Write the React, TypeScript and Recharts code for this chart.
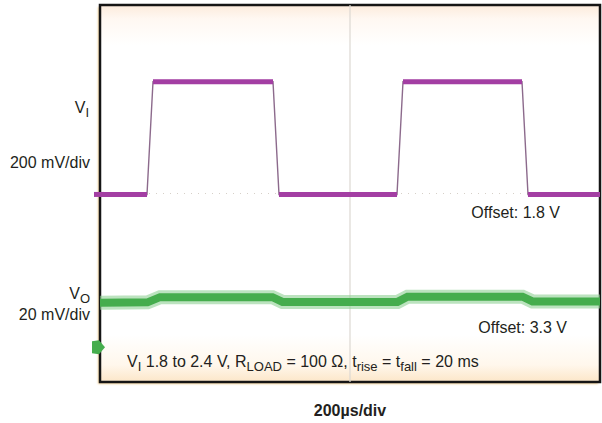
import React from "react";
import {
  LineChart,
  Line,
  XAxis,
  YAxis,
  ReferenceArea,
  ReferenceLine,
  ReferenceDot,
} from "recharts";

// time in µs (200 µs/div, 10 div), level in screen divisions (8 div)
const viTime = [0, 188, 212, 692, 716, 1188, 1212, 1688, 1712, 2000];
const viDiv = [3.98, 3.98, 6.37, 6.37, 3.98, 3.98, 6.37, 6.37, 3.98, 3.98];

const voTime = [0, 190, 240, 690, 730, 1190, 1230, 1690, 1730, 2000];
const voDiv = [1.68, 1.69, 1.8, 1.8, 1.7, 1.7, 1.81, 1.81, 1.71, 1.71];

const viMarker = 3.98;
const voMarker = 0.74;

const viData = viTime.map((t, i) => ({ t, v: viDiv[i] }));
const voData = voTime.map((t, i) => ({ t, v: voDiv[i] }));

// flat parts only (thick trace), edges left as gaps
const viFlat: { t: number; v: number | null }[] = [];
viTime.forEach((t, i) => {
  viFlat.push({ t, v: viDiv[i] });
  if (i % 2 === 1 && i < viTime.length - 1) {
    viFlat.push({ t: (t + viTime[i + 1]) / 2, v: null });
  }
});

const PURPLE = "#a33ea3";
const GREEN = "#45ad4d";
const font = "'Liberation Sans', Arial, sans-serif";

const ViMark = (p: any) => (
  <rect x={p.cx - 6} y={p.cy - 2.5} width={10} height={5} fill={PURPLE} />
);

const VoMark = (p: any) => (
  <path
    d={`M${p.cx - 8},${p.cy - 6} L${p.cx - 1},${p.cy - 7} L${p.cx + 5},${p.cy} L${p.cx - 1},${p.cy + 7} L${p.cx - 8},${p.cy + 6} Z`}
    fill={GREEN}
  />
);

export default function App() {
  return (
    <div style={{ position: "absolute", left: 0, top: 0, width: 602, height: 423, background: "#fff" }}>
      <div
        style={{
          position: "absolute",
          left: 100,
          top: 5,
          width: 500,
          height: 377,
          background:
            "linear-gradient(to bottom, #fcebdc 0px, #fff8f2 14px, #ffffff 40px, #ffffff 330px, #fff7ec 360px, #fce6c8 377px)",
          boxShadow: "-2px 2px 2px #f2d29a",
        }}
      />
      <div style={{ position: "absolute", left: 0, top: 0 }}>
        <LineChart width={602} height={423} margin={{ top: 5, right: 2, bottom: 41, left: 100 }}>
          <XAxis type="number" dataKey="t" domain={[0, 2000]} hide />
          <YAxis type="number" domain={[0, 8]} hide />
          <ReferenceLine x={1000} stroke="#dcd8d2" strokeWidth={1.2} />
          <ReferenceLine y={4} stroke="#d6d0c8" strokeDasharray="1 6" />
          <Line
            data={voData}
            dataKey="v"
            type="linear"
            stroke="#8fd094"
            strokeWidth={14}
            strokeOpacity={0.6}
            dot={false}
            isAnimationActive={false}
          />
          <Line
            data={voData}
            dataKey="v"
            type="linear"
            stroke={GREEN}
            strokeWidth={8}
            dot={false}
            isAnimationActive={false}
          />
          <Line
            data={viData}
            dataKey="v"
            type="linear"
            stroke="#8c6a8c"
            strokeWidth={1.4}
            dot={false}
            isAnimationActive={false}
          />
          <Line
            data={viFlat}
            dataKey="v"
            type="linear"
            stroke={PURPLE}
            strokeWidth={5}
            connectNulls={false}
            dot={false}
            isAnimationActive={false}
          />
          <ReferenceArea
            x1={0}
            x2={2000}
            y1={0}
            y2={8}
            fill="none"
            stroke="#151515"
            strokeWidth={2.5}
            ifOverflow="visible"
          />
          <ReferenceDot x={0} y={viMarker} ifOverflow="visible" shape={ViMark} />
          <ReferenceDot x={0} y={voMarker} ifOverflow="visible" shape={VoMark} />
        </LineChart>
      </div>
      <svg
        width={602}
        height={423}
        style={{ position: "absolute", left: 0, top: 0, pointerEvents: "none" }}
        fontFamily={font}
        fontSize={16}
        fill="#231f20"
      >
        <text x={89} y={113} textAnchor="end">
          V<tspan fontSize={13} dy={4}>I</tspan>
        </text>
        <text x={90} y={168} textAnchor="end">200 mV/div</text>
        <text x={90} y={299} textAnchor="end">
          V<tspan fontSize={13} dy={4}>O</tspan>
        </text>
        <text x={90} y={320} textAnchor="end">20 mV/div</text>
        <text x={560} y={218} textAnchor="end">Offset: 1.8 V</text>
        <text x={567} y={333} textAnchor="end">Offset: 3.3 V</text>
        <text x={127} y={367}>
          V<tspan fontSize={13} dy={4}>I</tspan>
          <tspan dy={-4}> 1.8 to 2.4 V, R</tspan>
          <tspan fontSize={13} dy={4}>LOAD</tspan>
          <tspan dy={-4}> = 100 Ω, t</tspan>
          <tspan fontSize={13} dy={4}>rise</tspan>
          <tspan dy={-4}> = t</tspan>
          <tspan fontSize={13} dy={4}>fall</tspan>
          <tspan dy={-4}> = 20 ms</tspan>
        </text>
        <text x={350} y={416} textAnchor="middle" fontWeight="bold">200µs/div</text>
      </svg>
    </div>
  );
}
